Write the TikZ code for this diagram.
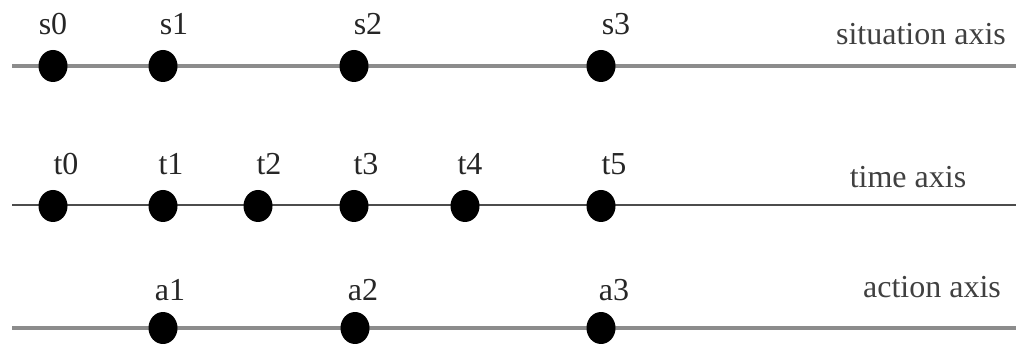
\documentclass[tikz,border=0pt]{standalone}
\usepackage{fontspec}
\setmainfont{Liberation Serif}
\usetikzlibrary{shapes.geometric}
\tikzset{
  dot/.style={ellipse, fill=black, draw=none, minimum width=29pt, minimum height=32pt, inner sep=0pt},
  lbl/.style={anchor=base, inner sep=0pt, font=\fontsize{32}{38}\selectfont, text=black!85},
  axislbl/.style={anchor=base, inner sep=0pt, font=\fontsize{32}{38}\selectfont, text=black!75},
  thickaxis/.style={draw=black!45, line width=3.5pt},
  thinaxis/.style={draw=black!70, line width=2pt}
}
\begin{document}
\begin{tikzpicture}[x=1pt, y=-1pt]
\useasboundingbox (0,0) rectangle (1016,344);
% axis end points
\coordinate (sL) at (12,66);  \coordinate (sR) at (1016,66);
\coordinate (tL) at (12,205); \coordinate (tR) at (1016,205);
\coordinate (aL) at (12,328); \coordinate (aR) at (1016,328);
\draw[thickaxis] (sL) -- (sR);
\draw[thinaxis] (tL) -- (tR);
\draw[thickaxis] (aL) -- (aR);
% situation axis
\node[dot] (s0) at (53,66) {};
\node[dot] (s1) at (163,66) {};
\node[dot] (s2) at (354,66) {};
\node[dot] (s3) at (601,66) {};
\node[lbl] (ls0) at (53,35) {s0};
\node[lbl] (ls1) at (174,35) {s1};
\node[lbl] (ls2) at (368,35) {s2};
\node[lbl] (ls3) at (616,35) {s3};
\node[axislbl] (sax) at (921,45) {situation axis};
% time axis
\node[dot] (t0) at (53,206) {};
\node[dot] (t1) at (163,206) {};
\node[dot] (t2) at (258,206) {};
\node[dot] (t3) at (354,206) {};
\node[dot] (t4) at (465,206) {};
\node[dot] (t5) at (601,206) {};
\node[lbl] (lt0) at (66,175) {t0};
\node[lbl] (lt1) at (171,175) {t1};
\node[lbl] (lt2) at (269,175) {t2};
\node[lbl] (lt3) at (366,175) {t3};
\node[lbl] (lt4) at (470,175) {t4};
\node[lbl] (lt5) at (614,175) {t5};
\node[axislbl] (tax) at (908,188) {time axis};
% action axis
\node[dot] (a1) at (163,328) {};
\node[dot] (a2) at (355,328) {};
\node[dot] (a3) at (601,328) {};
\node[lbl] (la1) at (170,300) {a1};
\node[lbl] (la2) at (363,300) {a2};
\node[lbl] (la3) at (614,300) {a3};
\node[axislbl] (aax) at (932,298) {action axis};
\end{tikzpicture}
\end{document}
